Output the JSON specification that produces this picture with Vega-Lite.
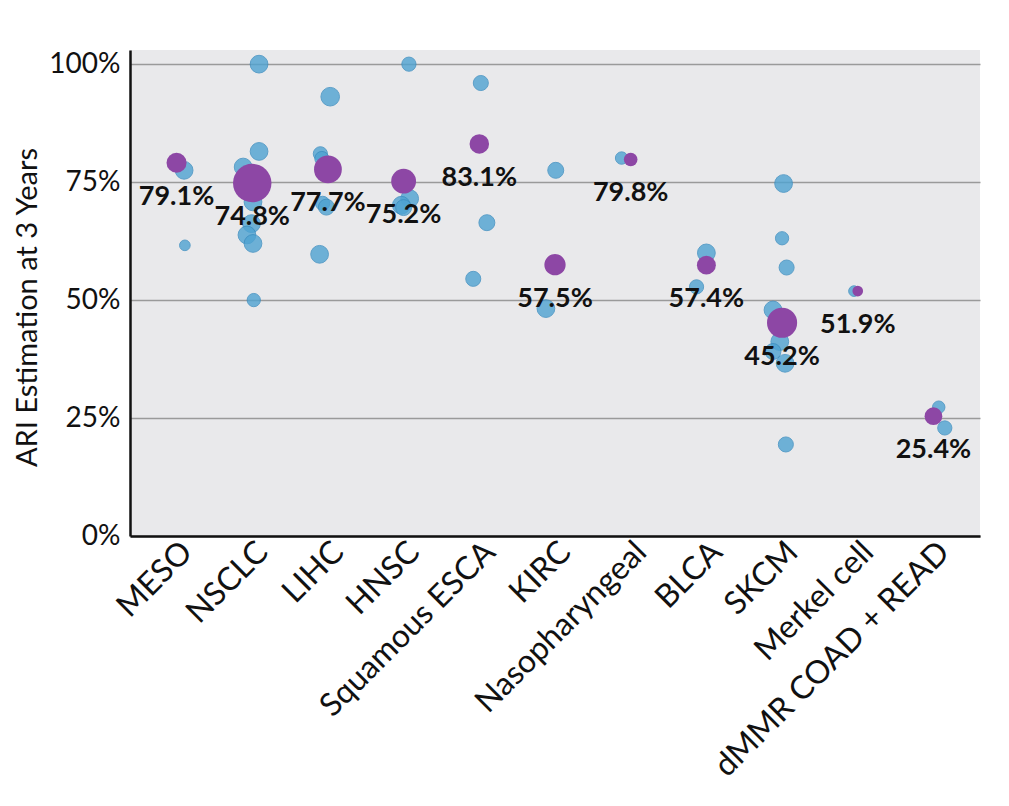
{
  "$schema": "https://vega.github.io/schema/vega-lite/v6.json",
  "width": 850,
  "height": 486,
  "autosize": "none",
  "padding": {"left": 130, "top": 50, "right": 29, "bottom": 270},
  "background": "white",
  "config": {
    "view": {"fill": "#e9e9eb", "stroke": null},
    "font": "Lato",
    "axis": {"labelFont": "Lato", "titleFont": "Lato", "labelColor": "#111", "titleColor": "#111"}
  },
  "datasets": {
    "trials": [
      {"type": "MESO", "ari": 77.5, "jitter": 0.10, "w": 100},
      {"type": "MESO", "ari": 61.6, "jitter": 0.11, "w": 36},
      {"type": "NSCLC", "ari": 100, "jitter": 0.09, "w": 100},
      {"type": "NSCLC", "ari": 81.5, "jitter": 0.09, "w": 100},
      {"type": "NSCLC", "ari": 78.2, "jitter": -0.12, "w": 100},
      {"type": "NSCLC", "ari": 73.0, "jitter": 0.06, "w": 100},
      {"type": "NSCLC", "ari": 70.8, "jitter": 0.01, "w": 100},
      {"type": "NSCLC", "ari": 66.2, "jitter": -0.01, "w": 100},
      {"type": "NSCLC", "ari": 63.8, "jitter": -0.07, "w": 100},
      {"type": "NSCLC", "ari": 62.0, "jitter": 0.01, "w": 100},
      {"type": "NSCLC", "ari": 50.0, "jitter": 0.02, "w": 56},
      {"type": "LIHC", "ari": 93.1, "jitter": 0.03, "w": 110},
      {"type": "LIHC", "ari": 81.0, "jitter": -0.10, "w": 64},
      {"type": "LIHC", "ari": 80.0, "jitter": -0.08, "w": 64},
      {"type": "LIHC", "ari": 70.5, "jitter": -0.07, "w": 64},
      {"type": "LIHC", "ari": 69.7, "jitter": -0.02, "w": 81},
      {"type": "LIHC", "ari": 59.7, "jitter": -0.11, "w": 100},
      {"type": "HNSC", "ari": 100, "jitter": 0.07, "w": 64},
      {"type": "HNSC", "ari": 71.5, "jitter": 0.08, "w": 100},
      {"type": "HNSC", "ari": 70.1, "jitter": -0.03, "w": 100},
      {"type": "HNSC", "ari": 69.6, "jitter": 0.0, "w": 81},
      {"type": "Squamous ESCA", "ari": 96.0, "jitter": 0.02, "w": 72},
      {"type": "Squamous ESCA", "ari": 66.4, "jitter": 0.10, "w": 81},
      {"type": "Squamous ESCA", "ari": 54.5, "jitter": -0.08, "w": 72},
      {"type": "KIRC", "ari": 77.5, "jitter": 0.01, "w": 81},
      {"type": "KIRC", "ari": 48.2, "jitter": -0.12, "w": 100},
      {"type": "Nasopharyngeal", "ari": 80.1, "jitter": -0.12, "w": 49},
      {"type": "BLCA", "ari": 60.0, "jitter": 0.0, "w": 100},
      {"type": "BLCA", "ari": 52.8, "jitter": -0.13, "w": 64},
      {"type": "SKCM", "ari": 74.7, "jitter": 0.02, "w": 100},
      {"type": "SKCM", "ari": 63.1, "jitter": 0.0, "w": 56},
      {"type": "SKCM", "ari": 56.9, "jitter": 0.06, "w": 72},
      {"type": "SKCM", "ari": 47.9, "jitter": -0.12, "w": 100},
      {"type": "SKCM", "ari": 41.2, "jitter": -0.03, "w": 100},
      {"type": "SKCM", "ari": 39.1, "jitter": -0.12, "w": 81},
      {"type": "SKCM", "ari": 36.6, "jitter": 0.04, "w": 100},
      {"type": "SKCM", "ari": 19.4, "jitter": 0.05, "w": 72},
      {"type": "Merkel cell", "ari": 51.9, "jitter": -0.05, "w": 36},
      {"type": "dMMR COAD + READ", "ari": 27.3, "jitter": 0.07, "w": 49},
      {"type": "dMMR COAD + READ", "ari": 22.9, "jitter": 0.15, "w": 64}
    ],
    "pooled": [
      {"type": "MESO", "ari": 79.1, "w": 128},
      {"type": "NSCLC", "ari": 74.8, "w": 471},
      {"type": "LIHC", "ari": 77.7, "w": 246},
      {"type": "HNSC", "ari": 75.2, "w": 196},
      {"type": "Squamous ESCA", "ari": 83.1, "w": 121},
      {"type": "KIRC", "ari": 57.5, "w": 144},
      {"type": "Nasopharyngeal", "ari": 79.8, "w": 59},
      {"type": "BLCA", "ari": 57.4, "w": 114},
      {"type": "SKCM", "ari": 45.2, "w": 289},
      {"type": "Merkel cell", "ari": 51.9, "w": 36},
      {"type": "dMMR COAD + READ", "ari": 25.4, "w": 100}
    ]
  },
  "encoding": {
    "x": {
      "field": "type",
      "type": "nominal",
      "sort": ["MESO", "NSCLC", "LIHC", "HNSC", "Squamous ESCA", "KIRC", "Nasopharyngeal", "BLCA", "SKCM", "Merkel cell", "dMMR COAD + READ"],
      "scale": {"type": "band", "paddingInner": 0, "paddingOuter": 0.115},
      "axis": {
        "title": null,
        "labelAngle": -45,
        "labelAlign": "right",
        "labelBaseline": "top",
        "labelFontSize": 32,
        "labelLimit": 0,
        "labelPadding": 0,
        "ticks": false,
        "domainColor": "#111",
        "domainWidth": 2.5,
        "grid": false
      }
    },
    "y": {
      "field": "ari",
      "type": "quantitative",
      "scale": {"domain": [0, 103], "nice": false},
      "axis": {
        "title": "ARI Estimation at 3 Years",
        "titleFontSize": 29,
        "titleFontWeight": "normal",
        "titlePadding": 6,
        "titleY": 257,
        "values": [0, 25, 50, 75, 100],
        "labelExpr": "datum.value + '%'",
        "labelFontSize": 28,
        "labelPadding": 10,
        "ticks": false,
        "domainColor": "#111",
        "domainWidth": 2.5,
        "grid": true,
        "gridColor": "#9a9a9a",
        "gridWidth": 1.5
      }
    },
    "size": {
      "field": "w",
      "type": "quantitative",
      "scale": {"domain": [0, 500], "range": [0, 1571]},
      "legend": null
    }
  },
  "layer": [
    {
      "data": {"name": "trials"},
      "mark": {"type": "circle", "fill": "#4fa3d2", "stroke": "#3a8dc0", "strokeWidth": 1, "opacity": 0.8},
      "encoding": {
        "xOffset": {"field": "jitter", "type": "quantitative", "scale": {"domain": [-0.5, 0.5]}}
      }
    },
    {
      "data": {"name": "pooled"},
      "mark": {"type": "circle", "fill": "#8d47a5", "opacity": 1}
    },
    {
      "data": {"name": "pooled"},
      "transform": [{"calculate": "format(datum.ari, '.1f') + '%'", "as": "lbl"}],
      "mark": {"type": "text", "font": "Lato", "fontWeight": "bold", "fontSize": 27, "color": "#111", "dy": 34, "baseline": "middle"},
      "encoding": {
        "text": {"field": "lbl", "type": "nominal"},
        "size": {"value": 27}
      }
    }
  ]
}
